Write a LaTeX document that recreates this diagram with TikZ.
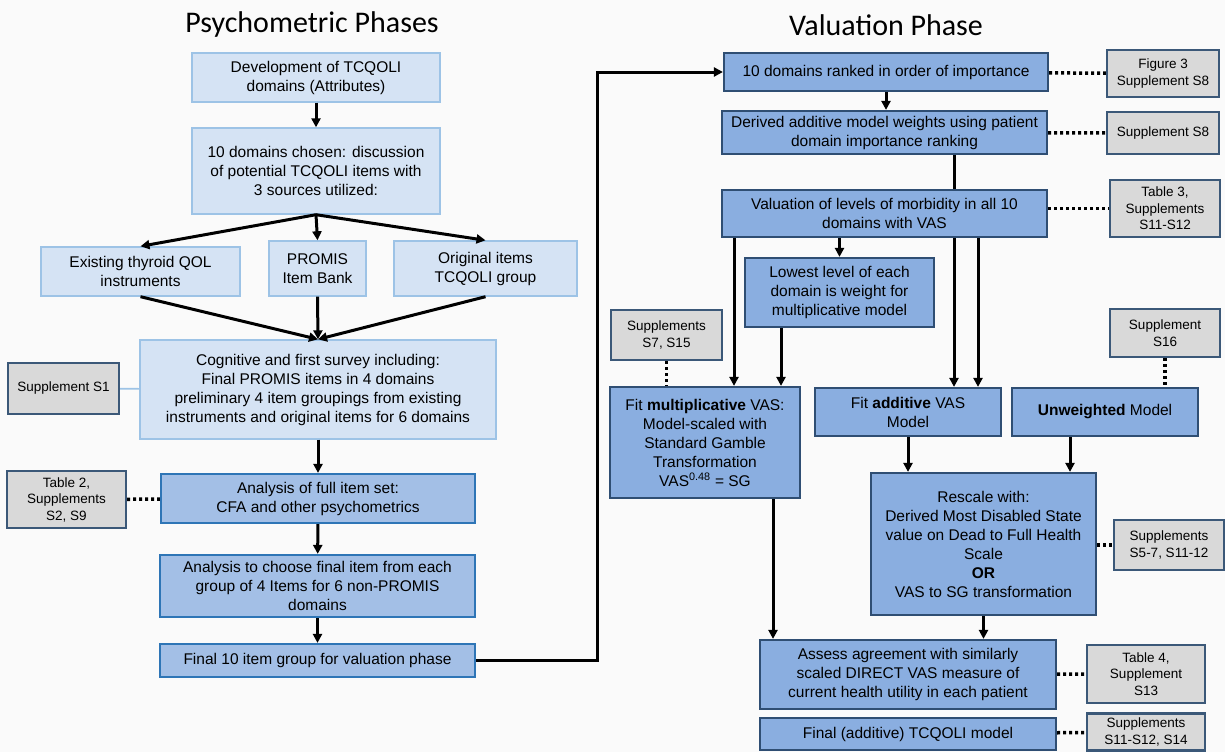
\documentclass[tikz,border=0pt]{standalone}
\usepackage{fontspec}
\setmainfont{Liberation Sans}
\newfontfamily\titlefont{Carlito}
\usepackage{xcolor}
\usepackage{tikz}
\usetikzlibrary{arrows.meta}
\definecolor{paleblu}{HTML}{D5E3F4}
\definecolor{paleedge}{HTML}{9DC3E6}
\definecolor{midblu}{HTML}{A3BFE6}
\definecolor{midedge}{HTML}{2E75B6}
\definecolor{blu}{HTML}{8AAEE0}
\definecolor{bluedge}{HTML}{2F4E73}
\definecolor{gry}{HTML}{D9D9D9}
\definecolor{gryedge}{HTML}{3B5878}
\definecolor{bgc}{HTML}{FAFAFA}

\tikzset{
  box/.style={draw, align=center, inner sep=2pt, font=\fontsize{15.5}{19}\selectfont},
  palebox/.style={box, fill=paleblu, draw=paleedge, line width=1.4pt},
  midbox/.style={box, fill=midblu, draw=midedge, line width=2.2pt},
  blubox/.style={box, fill=blu, draw=bluedge, line width=2.2pt},
  refbox/.style={box, fill=gry, draw=gryedge, line width=2.2pt, font=\fontsize{13.5}{16.5}\selectfont},
  phase/.style={font=\titlefont\fontsize{30}{36}\selectfont},
  arr/.style={-{Triangle[length=9pt,width=9pt]}, line width=3pt},
  dots/.style={line width=3.5pt, dash pattern=on 3pt off 3pt},
  link/.style={paleedge, line width=1.6pt}
}

\begin{document}
\begin{tikzpicture}[x=1pt, y=-1pt]
  \useasboundingbox (0,0) rectangle (1225,752);
  \fill[bgc] (0,0) rectangle (1225,752);
  % Titles
  \node[phase] (ttlpsy) at (312,25) {Psychometric Phases};
  \node[phase] (ttlval) at (886,25) {Valuation Phase};

  % Psychometric column
  \node[palebox, minimum width=248pt, minimum height=49pt] (dev) at (316,77.5)
    {Development of TCQOLI\\ domains (Attributes)};
  \node[palebox, minimum width=248pt, minimum height=86pt] (chosen) at (316,171)
    {10 domains chosen: discussion\\ of potential TCQOLI items with\\ 3 sources utilized:};
  \node[palebox, minimum width=199pt, minimum height=49pt] (exist) at (140.5,271.5)
    {Existing thyroid QOL\\ instruments};
  \node[palebox, minimum width=97pt, minimum height=55pt] (promis) at (317.5,268.5)
    {PROMIS\\ Item Bank};
  \node[palebox, minimum width=183pt, minimum height=55pt] (orig) at (485.5,268.5)
    {Original items\\ TCQOLI group};
  \node[palebox, minimum width=356pt, minimum height=99pt] (cog) at (318,389.5)
    {Cognitive and first survey including:\\ Final PROMIS items in 4 domains\\
     preliminary 4 item groupings from existing\\ instruments and original items for 6 domains};
  \node[midbox, minimum width=314pt, minimum height=49pt] (full) at (318,498.5)
    {Analysis of full item set:\\ CFA and other psychometrics};
  \node[midbox, minimum width=315pt, minimum height=62pt] (choose) at (317.5,586)
    {Analysis to choose final item from each\\ group of 4 Items for 6 non-PROMIS\\ domains};
  \node[midbox, minimum width=315pt, minimum height=33pt] (final10) at (317.5,660.5)
    {Final 10 item group for valuation phase};
  \node[refbox, minimum width=111pt, minimum height=51pt] (supp1) at (63.5,388.5)
    {Supplement S1};
  \node[refbox, minimum width=119pt, minimum height=57pt] (tab2) at (66.5,499.5)
    {Table 2,\\ Supplements\\ S2, S9};

  % Valuation column
  \node[blubox, minimum width=324pt, minimum height=38pt] (ranked) at (886,72)
    {10 domains ranked in order of importance};
  \node[blubox, minimum width=325pt, minimum height=43pt] (derived) at (884.5,132.5)
    {Derived additive model weights using patient\\ domain importance ranking};
  \node[blubox, minimum width=325pt, minimum height=47pt] (valu) at (884.5,213.5)
    {Valuation of levels of morbidity in all 10\\ domains with VAS};
  \node[blubox, minimum width=189pt, minimum height=69pt] (lowest) at (839.5,292.5)
    {Lowest level of each\\ domain is weight for\\ multiplicative model};
  \node[blubox, minimum width=190pt, minimum height=111pt] (mult) at (705,442.5)
    {Fit \textbf{multiplicative} VAS:\\ Model-scaled with\\ Standard Gamble\\
     Transformation\\ VAS\textsuperscript{0.48} = SG};
  \node[blubox, minimum width=186pt, minimum height=48pt] (add) at (908,412)
    {Fit \textbf{additive} VAS\\ Model};
  \node[blubox, minimum width=186pt, minimum height=48pt] (unw) at (1105,412)
    {\textbf{Unweighted} Model};
  \node[blubox, minimum width=225pt, minimum height=142pt] (rescale) at (983.5,544)
    {Rescale with:\\ Derived Most Disabled State\\ value on Dead to Full Health\\
     Scale\\ \textbf{OR}\\ VAS to SG transformation};
  \node[blubox, minimum width=296pt, minimum height=69pt] (assess) at (908,674.5)
    {Assess agreement with similarly\\ scaled DIRECT VAS measure of\\
     current health utility in each patient};
  \node[blubox, minimum width=296pt, minimum height=32pt] (finaladd) at (908,734)
    {Final (additive) TCQOLI model};

  % Reference boxes
  \node[refbox, minimum width=112pt, minimum height=47pt] (fig3) at (1163,73.5)
    {Figure 3\\ Supplement S8};
  \node[refbox, minimum width=112pt, minimum height=42pt] (s8) at (1163,133)
    {Supplement S8};
  \node[refbox, minimum width=110pt, minimum height=57pt] (tab3) at (1165,208.5)
    {Table 3,\\ Supplements\\ S11-S12};
  \node[refbox, minimum width=111pt, minimum height=50pt] (s7) at (666.5,335)
    {Supplements\\ S7, S15};
  \node[refbox, minimum width=110pt, minimum height=48pt] (s16) at (1165,333)
    {Supplement\\ S16};
  \node[refbox, minimum width=110pt, minimum height=50pt] (s57) at (1169,545)
    {Supplements\\ S5-7, S11-12};
  \node[refbox, minimum width=118pt, minimum height=58pt] (tab4) at (1146,674)
    {Table 4,\\ Supplement\\ S13};
  \node[refbox, minimum width=118pt, minimum height=37pt] (s11) at (1146,732)
    {Supplements\\ S11-S12, S14};

  % Helper x positions
  \coordinate (bend) at (597,0);
  \coordinate (xa) at (734,0);
  \coordinate (xb) at (954,0);
  \coordinate (xc) at (978,0);
  \coordinate (xd) at (781,0);
  \coordinate (xe) at (1070,0);
  \coordinate (xf) at (773,0);

  % Psychometric arrows
  \draw[arr] (dev) -- (chosen);
  \draw[arr] (chosen.south) -- (exist.north);
  \draw[arr] (chosen.south) -- (promis.north);
  \draw[arr] (chosen.south) -- (orig.north);
  \draw[arr] (exist.south) -- (cog.north);
  \draw[arr] (promis.south) -- (cog.north);
  \draw[arr] (orig.south) -- (cog.north);
  \draw[arr] (cog) -- (full);
  \draw[arr] (full) -- (choose);
  \draw[arr] (choose) -- (final10);
  \draw[link] (supp1) -- (cog);
  \draw[dots] (tab2) -- (full);

  % Into valuation phase
  \draw[arr] (final10.east) -- (final10.east -| bend) |- (ranked.west);

  % Valuation arrows
  \draw[arr] (ranked) -- (ranked.south |- derived.north);
  \draw[line width=3pt] (derived.south -| xb) -- (valu.north -| xb);
  \draw[arr] (valu.south -| xa) -- (mult.north -| xa);
  \draw[arr] (lowest.north |- valu.south) -- (lowest.north);
  \draw[arr] (valu.south -| xb) -- (add.north -| xb);
  \draw[arr] (valu.south -| xc) -- (add.north -| xc);
  \draw[arr] (lowest.south -| xd) -- (mult.north -| xd);
  \draw[arr] (add.south) -- (add.south |- rescale.north);
  \draw[arr] (unw.south -| xe) -- (rescale.north -| xe);
  \draw[arr] (mult.south -| xf) -- (assess.north -| xf);
  \draw[arr] (rescale.south) -- (rescale.south |- assess.north);

  % Dotted references
  \draw[dots] (ranked) -- (fig3);
  \draw[dots] (derived) -- (s8);
  \draw[dots] (tab3.west -| valu.east) -- (tab3.west);
  \draw[dots] (s7.south) -- (s7.south |- mult.north);
  \draw[dots] (s16.south) -- (s16.south |- unw.north);
  \draw[dots] (s57.west -| rescale.east) -- (s57.west);
  \draw[dots] (assess) -- (tab4);
  \draw[dots] (finaladd) -- (s11);
\end{tikzpicture}
\end{document}
